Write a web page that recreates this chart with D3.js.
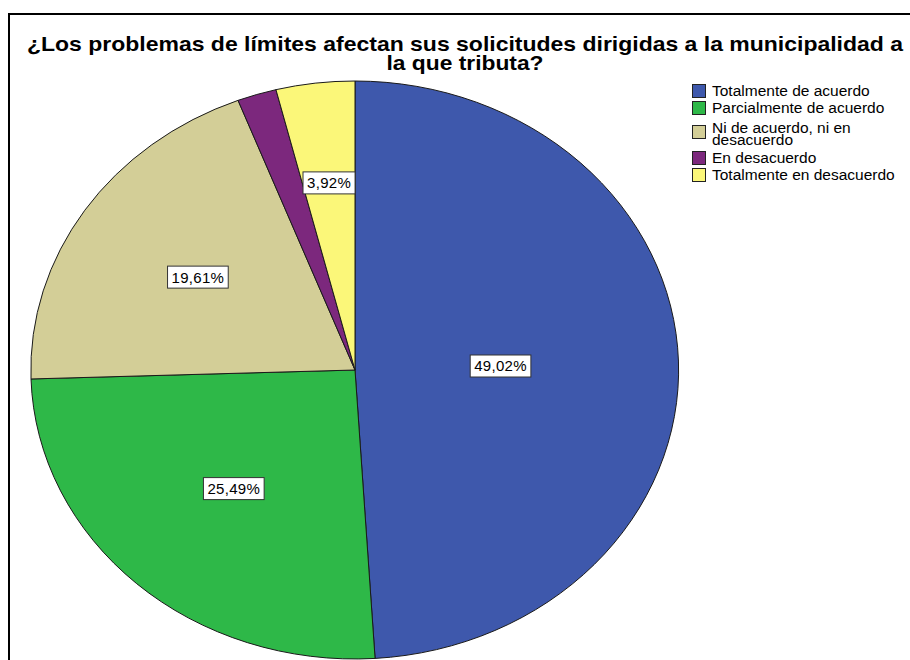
<!DOCTYPE html>
<html>
<head>
<meta charset="utf-8">
<script src="https://cdn.jsdelivr.net/npm/d3@7"></script>
<style>
  body { margin: 0; background: #fff; }
  #chart { width: 910px; height: 660px; }
  text { font-family: "Liberation Sans", Arial, sans-serif; }
</style>
</head>
<body>
<div id="chart"></div>
<script>
// DATA
const categories = ["Totalmente de acuerdo", "Parcialmente de acuerdo", "Ni de acuerdo, ni en desacuerdo", "En desacuerdo", "Totalmente en desacuerdo"];
const legendLines = [["Totalmente de acuerdo"], ["Parcialmente de acuerdo"], ["Ni de acuerdo, ni en", "desacuerdo"], ["En desacuerdo"], ["Totalmente en desacuerdo"]];
const percents = [49.02, 25.49, 19.61, 1.96, 3.92];
const showLabel = [true, true, true, false, true];
const colors = ["#3E58AC", "#2EB848", "#D3CE97", "#7C287D", "#FBF779"];
const titleLines = ["¿Los problemas de límites afectan sus solicitudes dirigidas a la municipalidad a", "la que tributa?"];

const w = 910, h = 660;
const cx = 355, cy = 370, rx = 324, ry = 289;

const svg = d3.select("#chart").append("svg")
    .attr("width", w)
    .attr("height", h);

// frame (right and bottom run off the page)
svg.append("rect")
    .attr("x", 9).attr("y", 14)
    .attr("width", 920).attr("height", 700)
    .attr("fill", "none")
    .attr("stroke", "#000")
    .attr("stroke-width", 2);

// TITLE - SPSS draws it quite wide, so stretch it to the measured width
const titleWidths = [876, 157];
svg.append("g").selectAll("text")
    .data(titleLines)
    .enter().append("text")
    .attr("x", 465)
    .attr("y", (d, i) => 51 + i * 18.5)
    .attr("text-anchor", "middle")
    .attr("font-size", 20.5)
    .attr("font-weight", "bold")
    .attr("fill", "#000")
    .attr("textLength", (d, i) => titleWidths[i])
    .attr("lengthAdjust", "spacingAndGlyphs")
    .text(d => d);

// PIE (unit circle, stretched to an ellipse)
const pie = d3.pie().sort(null).value(d => d);
const arcs = pie(percents);
const arc = d3.arc().innerRadius(0).outerRadius(1);

const pieG = svg.append("g")
    .attr("transform", "translate(" + cx + "," + cy + ") scale(" + rx + "," + ry + ")");

pieG.selectAll("path")
    .data(arcs)
    .enter().append("path")
    .attr("d", arc)
    .attr("fill", (d, i) => colors[i])
    .attr("stroke", "#1a1a1a")
    .attr("stroke-width", 1)
    .attr("vector-effect", "non-scaling-stroke");

// LABELS - smaller slices get pushed further out
const labelG = svg.append("g");
arcs.forEach((d, i) => {
    if (!showLabel[i]) return;
    const p = d.data / 100;
    const f = 0.67 - 0.45 * p;
    const lab = d3.arc().innerRadius(f).outerRadius(f).centroid(d);
    const x = cx + lab[0] * rx, y = cy + lab[1] * ry;
    const txt = d3.format(".2f")(d.data).replace(".", ",") + "%";
    const g = labelG.append("g").attr("transform", "translate(" + x + "," + y + ")");
    const t = g.append("text")
        .attr("text-anchor", "middle")
        .attr("dy", "0.36em")
        .attr("font-size", 15)
        .attr("letter-spacing", 0.3)
        .attr("fill", "#000")
        .text(txt);
    const bb = t.node().getBBox();
    g.insert("rect", "text")
        .attr("x", bb.x - 4).attr("y", -11)
        .attr("width", bb.width + 8).attr("height", 22)
        .attr("fill", "#fff")
        .attr("stroke", "#333")
        .attr("stroke-width", 1);
});

// LEGEND
const legendY = [84, 101, 121, 151, 168];
const legend = svg.append("g").attr("transform", "translate(692,0)");
categories.forEach((c, i) => {
    const row = legend.append("g").attr("transform", "translate(0," + legendY[i] + ")");
    const nLines = legendLines[i].length;
    row.append("rect")
        .attr("x", 0.5).attr("y", 0.5 + (nLines > 1 ? 4 : 0))
        .attr("width", 13).attr("height", 13)
        .attr("fill", colors[i])
        .attr("stroke", "#222");
    row.selectAll("text")
        .data(legendLines[i])
        .enter().append("text")
        .attr("x", 20)
        .attr("y", (d, j) => 12 + j * 11.5)
        .attr("font-size", 15.5)
        .attr("fill", "#000")
        .text(d => d);
});
</script>
</body>
</html>
